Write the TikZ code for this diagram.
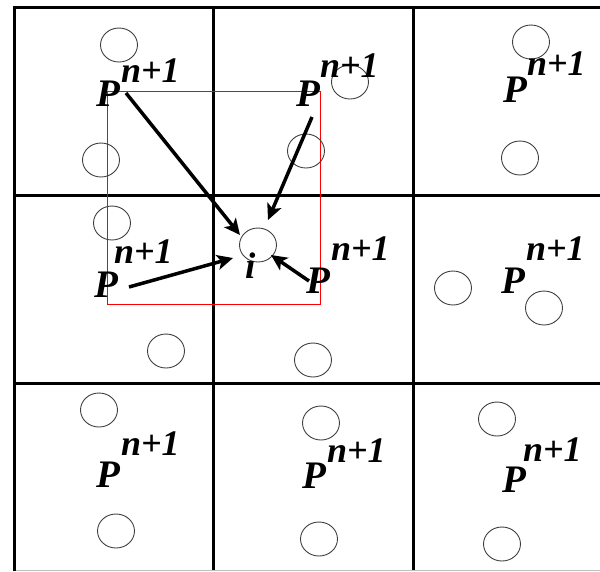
\documentclass[tikz,border=0pt]{standalone}
\usepackage{fontspec}
\setmainfont{Liberation Serif}[BoldItalicFont={Liberation Serif Bold Italic}]
\newfontfamily\lblfont{Liberation Serif Bold Italic}
\usetikzlibrary{shapes.geometric,arrows.meta}
\begin{document}
\begin{tikzpicture}[x=1pt,y=-1pt,
  gridline/.style={line width=3pt,black},
  particle/.style={draw=black!75,ellipse,line width=0.9pt,minimum width=37pt,minimum height=34pt,inner sep=0pt},
  plabel/.style={font=\fontsize{39}{39}\lblfont,inner sep=0pt,anchor=base west},
  slabel/.style={font=\fontsize{36}{36}\lblfont,inner sep=0pt,anchor=base west},
  flow/.style={line width=3.5pt,-{Stealth[length=16pt,width=15pt,inset=4pt]}},
  window/.style={draw=red,line width=1.6pt}]
\useasboundingbox (0,0) rectangle (600,571);
\fill[white] (0,0) rectangle (600,571);
% grid
\draw[gridline] (14,571) -- (14,7) -- (600,7);
\draw[gridline] (213,7) -- (213,571);
\draw[gridline] (413,7) -- (413,571);
\draw[gridline] (14,195) -- (600,195);
\draw[gridline] (14,383) -- (600,383);
\draw[gray!50,line width=0.8pt] (15.5,570) -- (600,570);
% red search window
\draw[window] (107.5,91.5) rectangle (320.5,304.5);
% particles
\node[particle] (c1a) at (119,45) {};
\node[particle] (c1b) at (101,160) {};
\node[particle] (c2a) at (350,82) {};
\node[particle] (c2b) at (306,151) {};
\node[particle] (c3a) at (531,42) {};
\node[particle] (c3b) at (520,158) {};
\node[particle] (c4a) at (112,223) {};
\node[particle] (c4b) at (166,351) {};
\node[particle] (tgt) at (258,245) {};
\node[particle] (c5b) at (313,360) {};
\node[particle] (c6a) at (453,288) {};
\node[particle] (c6b) at (544,308) {};
\node[particle] (c7a) at (99,410) {};
\node[particle] (c7b) at (116,531) {};
\node[particle] (c8a) at (321,423) {};
\node[particle] (c8b) at (319,539) {};
\node[particle] (c9a) at (497,419) {};
\node[particle] (c9b) at (502,544) {};
% labels P^{n+1}
\node[plabel] (p1) at (96,106) {P};
\node[slabel] (s1) at (121,82) {n+1};
\node[plabel] (p2) at (296,106) {P};
\node[slabel] (s2) at (320,77) {n+1};
\node[plabel] (p3) at (503,102) {P};
\node[slabel] (s3) at (527,75) {n+1};
\node[plabel] (p4) at (94,297) {P};
\node[slabel] (s4) at (114,263) {n+1};
\node[plabel] (p5) at (306,293) {P};
\node[slabel] (s5) at (331,260) {n+1};
\node[plabel] (p6) at (501,293) {P};
\node[slabel] (s6) at (526,260) {n+1};
\node[plabel] (p7) at (96,487) {P};
\node[slabel] (s7) at (121,455) {n+1};
\node[plabel] (p8) at (302,488) {P};
\node[slabel] (s8) at (327,462) {n+1};
\node[plabel] (p9) at (502,492) {P};
\node[slabel] (s9) at (523,461) {n+1};
\node[plabel,font=\fontsize{37}{37}\lblfont] (ilabel) at (245,278) {i};
% arrows
\coordinate (t1) at (126,93);
\coordinate (h1) at (240,235);
\coordinate (t2) at (312,117);
\coordinate (h2) at (268,220);
\coordinate (t3) at (129,287);
\coordinate (h3) at (233,258);
\coordinate (t4) at (309,281);
\coordinate (h4) at (271,255);
\draw[flow] (t1) -- (h1);
\draw[flow] (t2) -- (h2);
\draw[flow] (t3) -- (h3);
\draw[flow] (t4) -- (h4);
\end{tikzpicture}
\end{document}
